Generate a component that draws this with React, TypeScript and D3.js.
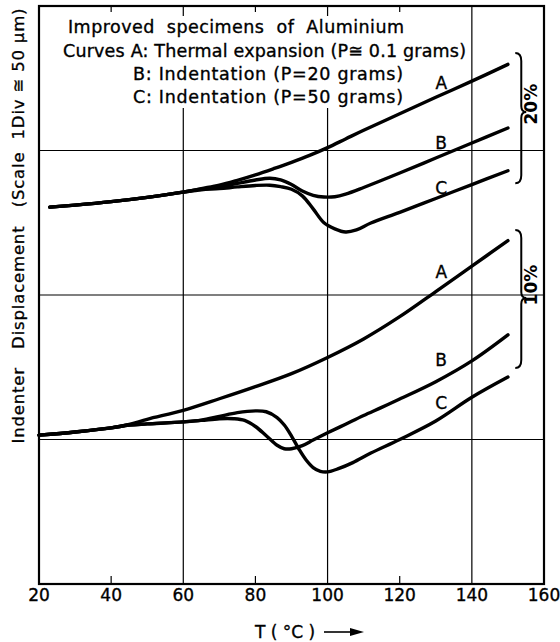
import * as d3 from "d3";

// temperatures (°C) and displacement (µm, 1 div = 50 µm)
const upperAT = [23, 30, 40, 50, 60, 65, 70, 75, 80, 85, 90, 95, 100, 105, 110, 120, 130, 140, 150];
const upperA = [130.4, 131.1, 132.3, 133.8, 135.6, 136.8, 138.0, 139.7, 141.6, 143.7, 145.9, 148.3, 151.0, 154.0, 157.0, 162.7, 168.4, 174.0, 179.8];

const upperBT = [23, 30, 40, 50, 60, 65, 70, 75, 80, 84, 87, 90, 93, 96, 99, 102, 105, 110, 120, 130, 140, 150];
const upperB = [130.4, 131.1, 132.3, 133.8, 135.6, 136.6, 137.3, 138.6, 139.8, 140.4, 139.8, 138.2, 136.0, 134.5, 133.9, 134.0, 134.9, 137.2, 142.2, 147.4, 152.6, 157.8];

const upperCT = [23, 30, 40, 50, 60, 65, 70, 75, 80, 84, 87, 90, 93, 96, 99, 102, 105, 108, 112, 120, 130, 140, 150];
const upperC = [130.4, 131.1, 132.3, 133.8, 135.6, 136.4, 136.8, 137.4, 137.9, 138.0, 137.5, 136.6, 134.3, 129.8, 125.0, 122.9, 121.8, 122.5, 124.9, 128.6, 133.4, 138.2, 143.0];

const lowerAT = [20, 30, 40, 45, 50, 60, 70, 80, 90, 100, 110, 120, 130, 140, 150];
const lowerA = [51.5, 52.6, 54.0, 55.2, 57.0, 60.1, 64.1, 68.3, 72.8, 78.4, 84.8, 92.5, 101.2, 110.0, 118.8];

const lowerBT = [20, 30, 40, 45, 50, 60, 65, 70, 74, 77, 80, 83, 86, 88, 90, 93, 96, 100, 105, 110, 115, 120, 130, 140, 150];
const lowerB = [51.5, 52.6, 54.0, 55.0, 55.4, 56.1, 56.6, 57.2, 57.2, 56.6, 54.5, 51.3, 48.0, 46.8, 46.8, 47.9, 49.8, 52.3, 55.3, 58.3, 61.1, 64.0, 70.0, 77.2, 86.2];

const lowerCT = [20, 30, 40, 45, 50, 60, 65, 70, 75, 80, 83, 86, 88, 90, 92, 94, 96, 98, 100, 103, 107, 112, 120, 130, 140, 150];
const lowerC = [51.5, 52.6, 54.0, 55.0, 55.4, 56.1, 56.7, 58.0, 59.3, 59.9, 59.6, 57.6, 55.0, 51.2, 46.8, 43.0, 40.3, 39.0, 38.8, 39.9, 42.0, 45.3, 50.0, 56.4, 64.6, 71.6];

const xTicks = [20, 40, 60, 80, 100, 120, 140, 160];
const xGrid = [60, 100, 140];
const xMinor = [40, 80, 120];
const yGrid = [50, 100, 150];

// legend lines: [text, x, baseline, width]
const legendLines: [string, number, number, number][] = [
  ["Improved  specimens  of  Aluminium", 68, 33, 336],
  ["Curves A: Thermal expansion (P\u2245 0.1 grams)", 63, 57, 403],
  ["B: Indentation (P=20 grams)", 133, 80, 270],
  ["C: Indentation (P=50 grams)", 133, 103, 270],
];

// curve label: [letter, T, displacement]
const curveLabels: [string, number, number][] = [
  ["A", 131.5, 173.5],
  ["B", 131.5, 152.5],
  ["C", 131.5, 137],
  ["A", 131.5, 107.8],
  ["B", 131.5, 77.6],
  ["C", 131.5, 62.6],
];

// bracket: [top, bottom, tip, text] in µm
const brackets: [number, number, number, string][] = [
  [183.7, 138.7, 163.3, "20%"],
  [122.5, 74.7, 99.0, "10%"],
];

const font = "'DejaVu Sans', sans-serif";

export default function App() {
  const x = d3.scaleLinear().domain([20, 160]).range([39, 544]);
  const y = d3.scaleLinear().domain([0, 200]).range([584, 6]);

  const line = d3
    .line<[number, number]>()
    .x((d) => x(d[0]))
    .y((d) => y(d[1]))
    .curve(d3.curveCatmullRom.alpha(0.5));

  const series = [
    [upperAT, upperA],
    [upperBT, upperB],
    [upperCT, upperC],
    [lowerAT, lowerA],
    [lowerBT, lowerB],
    [lowerCT, lowerC],
  ].map(([ts, vs]) => ts.map((t, i) => [t, vs[i]] as [number, number]));

  const [x0, x1] = x.range();
  const [yb, yt] = y.range();

  const brace = (top: number, bot: number, tip: number) => {
    const bx = x(153.7);
    const a = y(top);
    const b = y(bot);
    const m = y(tip);
    return `M${bx - 6},${a} Q${bx},${a} ${bx},${a + 8} L${bx},${m - 6} Q${bx},${m} ${bx + 5},${m} Q${bx},${m} ${bx},${m + 6} L${bx},${b - 8} Q${bx},${b} ${bx - 6},${b}`;
  };

  return (
    <svg
      width={560}
      height={642}
      style={{ position: "absolute", left: 0, top: 0, background: "#fff" }}
      fontFamily={font}
    >
      {/* grid */}
      {xGrid.map((t) => (
        <line key={"gx" + t} x1={x(t)} x2={x(t)} y1={yt} y2={yb} stroke="#000" strokeWidth={1.2} />
      ))}
      {yGrid.map((v) => (
        <line key={"gy" + v} x1={x0} x2={x1} y1={y(v)} y2={y(v)} stroke="#000" strokeWidth={1.2} />
      ))}
      {xMinor.map((t) => (
        <g key={"mt" + t}>
          <line x1={x(t)} x2={x(t)} y1={yb} y2={yb - 8} stroke="#000" strokeWidth={1.2} />
          <line x1={x(t)} x2={x(t)} y1={yt} y2={yt + 6} stroke="#000" strokeWidth={1.2} />
        </g>
      ))}

      {/* legend block hides the grid behind it */}
      <rect x={55} y={16} width={412} height={92} fill="#fff" />
      <g fontSize={17.5} fill="#000" stroke="#000" strokeWidth={0.35}>
        {legendLines.map(([txt, lx, ly, w]) => (
          <text key={txt} x={lx} y={ly} textLength={w} lengthAdjust="spacing" style={{ whiteSpace: "pre" }}>
            {txt}
          </text>
        ))}
      </g>

      {/* curves */}
      {series.map((s, i) => (
        <path key={"c" + i} d={line(s) ?? ""} fill="none" stroke="#000" strokeWidth={3.4} strokeLinecap="round" />
      ))}
      <g fontSize={17} stroke="#000" strokeWidth={0.35}>
        {curveLabels.map(([l, t, v], i) => (
          <text key={"l" + i} x={x(t)} y={y(v) + 6} textAnchor="middle">
            {l}
          </text>
        ))}
      </g>

      {/* brackets */}
      {brackets.map(([top, bot, tip, txt]) => (
        <g key={txt}>
          <path d={brace(top, bot, tip)} fill="none" stroke="#000" strokeWidth={2} />
          <text
            transform={`translate(${x(156.3)},${(y(top) + y(bot)) / 2 - 14}) rotate(-90)`}
            textAnchor="middle"
            dy="0.35em"
            fontSize={17}
            fontWeight="bold"
          >
            {txt}
          </text>
        </g>
      ))}

      {/* frame */}
      <rect x={x0} y={yt} width={x1 - x0} height={yb - yt} fill="none" stroke="#000" strokeWidth={2.2} />

      {/* x axis */}
      <g fontSize={17} stroke="#000" strokeWidth={0.35}>
        {xTicks.map((t) => (
          <text key={"xt" + t} x={x(t)} y={601} textAnchor="middle">
            {t}
          </text>
        ))}
        <text x={255} y={638} style={{ whiteSpace: "pre" }}>
          {"T ( \u00b0C )"}
        </text>
      </g>
      <line x1={324} x2={352} y1={632} y2={632} stroke="#000" strokeWidth={1.6} />
      <path d="M350,628 L364,632 L350,636 Z" fill="#000" />

      {/* y axis label */}
      <text
        transform="translate(18,226) rotate(-90)"
        textAnchor="middle"
        dy="0.35em"
        fontSize={16.5}
        stroke="#000"
        strokeWidth={0.3}
        textLength={435}
        lengthAdjust="spacing"
        style={{ whiteSpace: "pre" }}
      >
        {"Indenter   Displacement   (Scale  1Div \u2245 50 \u00b5m)"}
      </text>
    </svg>
  );
}
